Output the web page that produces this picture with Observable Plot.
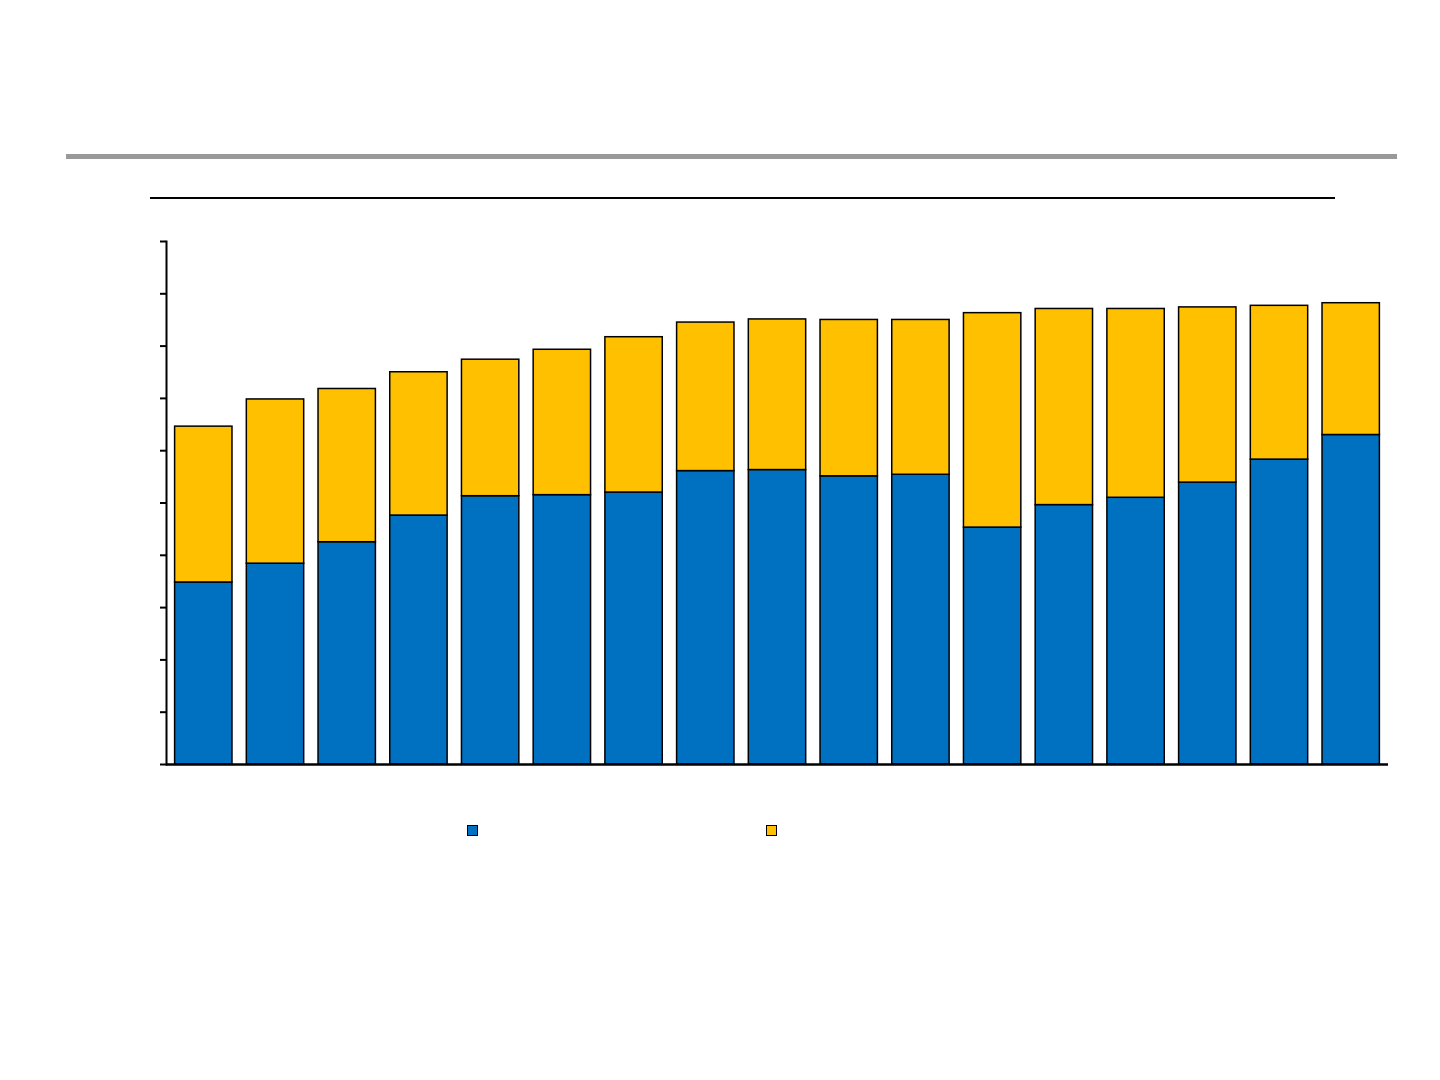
<!DOCTYPE html>
<html>
<head>
<meta charset="utf-8">
<script src="https://cdn.jsdelivr.net/npm/d3@7"></script>
<script src="https://cdn.jsdelivr.net/npm/@observablehq/plot@0.6"></script>
<style>
  html, body { margin: 0; padding: 0; background: #fff; }
  body { width: 1440px; height: 1080px; position: relative; overflow: hidden; font-family: Arial, "Liberation Sans", sans-serif; }
  #chart { position: absolute; left: 0; top: 0; }
  .rule-gray { position: absolute; left: 66px; top: 154px; width: 1331px; height: 5px; background: #999999; }
  .rule-black { position: absolute; left: 150px; top: 197px; width: 1185px; height: 2px; background: #000; }
  .legend-swatch { position: absolute; top: 825px; width: 9px; height: 9px; border: 1.5px solid #000; }
</style>
</head>
<body>
<div class="rule-gray"></div>
<div class="rule-black"></div>
<div id="chart"></div>
<div class="legend-swatch" style="left:467px;background:#0070C0"></div>
<div class="legend-swatch" style="left:766px;background:#FFC000"></div>
<script>
const categories = ["1","2","3","4","5","6","7","8","9","10","11","12","13","14","15","16","17"];
const seriesNames = ["A", "B"];
const seriesA = [34.8, 38.4, 42.5, 47.6, 51.3, 51.5, 52.0, 56.1, 56.3, 55.1, 55.4, 45.3, 49.6, 51.0, 53.9, 58.3, 63.0];
const seriesB = [29.8, 31.4, 29.3, 27.4, 26.1, 27.8, 29.7, 28.4, 28.8, 29.9, 29.6, 41.0, 37.5, 36.1, 33.5, 29.4, 25.2];
const yTicks = [0, 10, 20, 30, 40, 50, 60, 70, 80, 90, 100];
const colors = ["#0070C0", "#FFC000"];

const data = [];
categories.forEach((c, i) => {
  data.push({cat: c, series: seriesNames[0], value: seriesA[i]});
  data.push({cat: c, series: seriesNames[1], value: seriesB[i]});
});

const chart = Plot.plot({
  width: 1440,
  height: 1080,
  marginLeft: 166,
  marginRight: 52,
  marginTop: 241,
  marginBottom: 316,
  x: {domain: categories, paddingInner: 0.2, paddingOuter: 0.12, round: false, axis: null},
  y: {domain: [0, 100], axis: null},
  color: {domain: seriesNames, range: colors},
  marks: [
    Plot.barY(data, {x: "cat", y: "value", fill: "series", stroke: "#000", strokeWidth: 1.5, order: seriesNames}),
    Plot.axisY(yTicks, {tickSize: 6, tickFormat: () => "", label: null, stroke: "#000", strokeWidth: 2}),
    Plot.frame({anchor: "left", stroke: "#000", strokeWidth: 2}),
    Plot.ruleY([0], {stroke: "#000", strokeWidth: 2.5})
  ]
});
document.getElementById("chart").appendChild(chart);
</script>
</body>
</html>
